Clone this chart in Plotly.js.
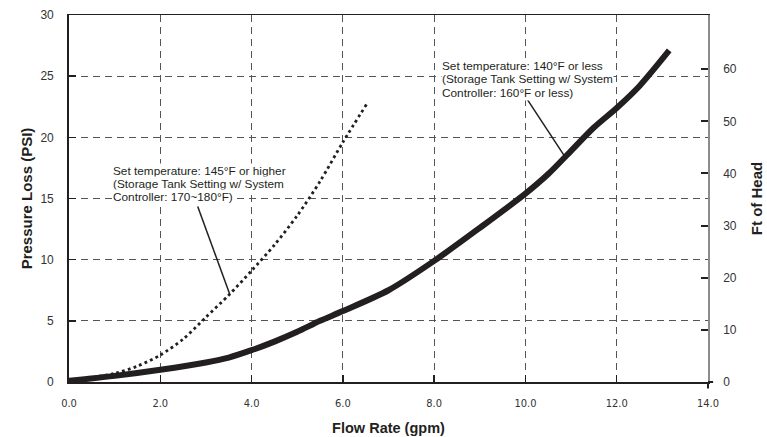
<!DOCTYPE html>
<html>
<head>
<meta charset="utf-8">
<script src="https://cdn.plot.ly/plotly-3.0.1.min.js"></script>
<style>html,body{margin:0;padding:0;background:#fff}#chart{width:767px;height:437px}</style>
</head>
<body>
<div id="chart"></div>
<script>
// Solid curve: Set temperature 140°F or less
const flowLow = [0, 1, 2, 3, 3.5, 4, 4.5, 5, 5.5, 6, 7, 8, 9, 10, 10.5, 11, 11.5, 12, 12.5, 13.15];
const lossLow = [0.1, 0.5, 1.0, 1.6, 2.0, 2.6, 3.3, 4.1, 5.0, 5.8, 7.5, 9.9, 12.6, 15.4, 17.0, 18.9, 20.8, 22.4, 24.2, 27.1];
// Dotted curve: Set temperature 145°F or higher
const flowHigh = [0, 1, 1.5, 2, 2.5, 3, 3.5, 4, 4.5, 5, 5.5, 6, 6.52];
const lossHigh = [0.1, 0.7, 1.3, 2.2, 3.5, 5.3, 7.1, 9.1, 11.2, 13.6, 16.4, 19.6, 22.7];

const xTicks = [0, 2, 4, 6, 8, 10, 12, 14];
const xTickText = ["0.0", "2.0", "4.0", "6.0", "8.0", "10.0", "12.0", "14.0"];
const yTicks = [0, 5, 10, 15, 20, 25, 30];
const ftTicks = [0, 10, 20, 30, 40, 50, 60];

const noteHighLines = ["Set temperature: 145°F or higher", "(Storage Tank Setting w/ System", "Controller: 170~180°F)"];
const noteHighY = [17.21, 16.18, 15.15];
const noteLowLines = ["Set temperature: 140°F or less", "(Storage Tank Setting w/ System", "Controller: 160°F or less)"];
const noteLowY = [25.82, 24.74, 23.66];
const pointerHighX = [2.82, 3.53];
const pointerHighY = [14.34, 7.1];
const pointerLowX = [10.04, 10.85];
const pointerLowY = [23.1, 18.5];

const ink = "#231f20";

const traces = [
  {x: flowLow, y: lossLow, mode: "lines", line: {color: ink, width: 6, shape: "spline", smoothing: 0.8}, hoverinfo: "skip"},
  {x: flowHigh, y: lossHigh, mode: "lines", line: {color: ink, width: 2.8, dash: "2.8px,3.2px", shape: "spline", smoothing: 0.8}, hoverinfo: "skip"},
  {x: [0], y: [0], xaxis: "x", yaxis: "y2", mode: "markers", marker: {opacity: 0}, hoverinfo: "skip"}
];

const annotations = [];
noteHighLines.forEach((t, i) => annotations.push({x: 0.94, y: noteHighY[i], xref: "x", yref: "y", xanchor: "left", yanchor: "middle", showarrow: false, text: t, bgcolor: "#fff", borderpad: 0, font: {size: 11.8, color: ink}}));
noteLowLines.forEach((t, i) => annotations.push({x: 8.15, y: noteLowY[i], xref: "x", yref: "y", xanchor: "left", yanchor: "middle", showarrow: false, text: t, bgcolor: "#fff", borderpad: 0, font: {size: 11.8, color: ink}}));

const layout = {
  width: 767, height: 437,
  margin: {l: 69, r: 59, t: 15, b: 55},
  paper_bgcolor: "#fff", plot_bgcolor: "#fff",
  showlegend: false,
  font: {family: "Liberation Sans, Arial, sans-serif", color: ink},
  xaxis: {
    range: [0, 14], tickvals: xTicks, ticktext: xTickText,
    ticks: "inside", ticklen: 7, tickwidth: 1.5, tickcolor: ink,
    showline: true, linecolor: ink, linewidth: 1.5, mirror: true,
    showgrid: true, gridcolor: "#555", gridwidth: 1, griddash: "7px,5px",
    zeroline: false, ticklabelstandoff: 10,
    tickfont: {family: "Liberation Sans Narrow, DejaVu Sans Condensed, sans-serif", size: 11, color: "#333"},
    title: {text: "Flow Rate (gpm)", font: {size: 14.5, color: ink, family: "Liberation Sans, Arial, sans-serif", weight: "bold"}, standoff: 14}
  },
  yaxis: {
    range: [0, 30], tickvals: yTicks,
    ticks: "inside", ticklen: 7, tickwidth: 1.5, tickcolor: ink,
    showline: true, linecolor: ink, linewidth: 1.8,
    showgrid: true, gridcolor: "#555", gridwidth: 1, griddash: "7px,5px",
    zeroline: false, ticklabelstandoff: 11,
    tickfont: {size: 12, color: "#333"},
    title: {text: "Pressure Loss (PSI)", font: {size: 15, color: ink, weight: "bold"}, standoff: 4}
  },
  yaxis2: {
    overlaying: "y", side: "right", range: [0, 70.4], tickvals: ftTicks,
    ticks: "inside", ticklen: 7, tickwidth: 2, tickcolor: ink,
    showline: true, linecolor: "#8a8c8e", linewidth: 1.8,
    showgrid: false, zeroline: false, ticklabelstandoff: 11,
    tickfont: {size: 12, color: "#333"},
    title: {text: "Ft of Head", font: {size: 15, color: ink, weight: "bold"}, standoff: 16}
  },
  shapes: [
    {type: "line", xref: "x", yref: "y", x0: pointerHighX[0], y0: pointerHighY[0], x1: pointerHighX[1], y1: pointerHighY[1], line: {color: ink, width: 1.5}},
    {type: "line", xref: "x", yref: "y", x0: pointerLowX[0], y0: pointerLowY[0], x1: pointerLowX[1], y1: pointerLowY[1], line: {color: ink, width: 1.5}},
    {type: "line", xref: "paper", yref: "paper", x0: 1, x1: 1.008, y0: 0, y1: 0, line: {color: ink, width: 2}},
    {type: "line", xref: "paper", yref: "paper", x0: 1, x1: 1, y0: 0, y1: -0.018, line: {color: ink, width: 2}}
  ],
  annotations: annotations
};

Plotly.newPlot("chart", traces, layout, {staticPlot: true, displayModeBar: false});
</script>
</body>
</html>
